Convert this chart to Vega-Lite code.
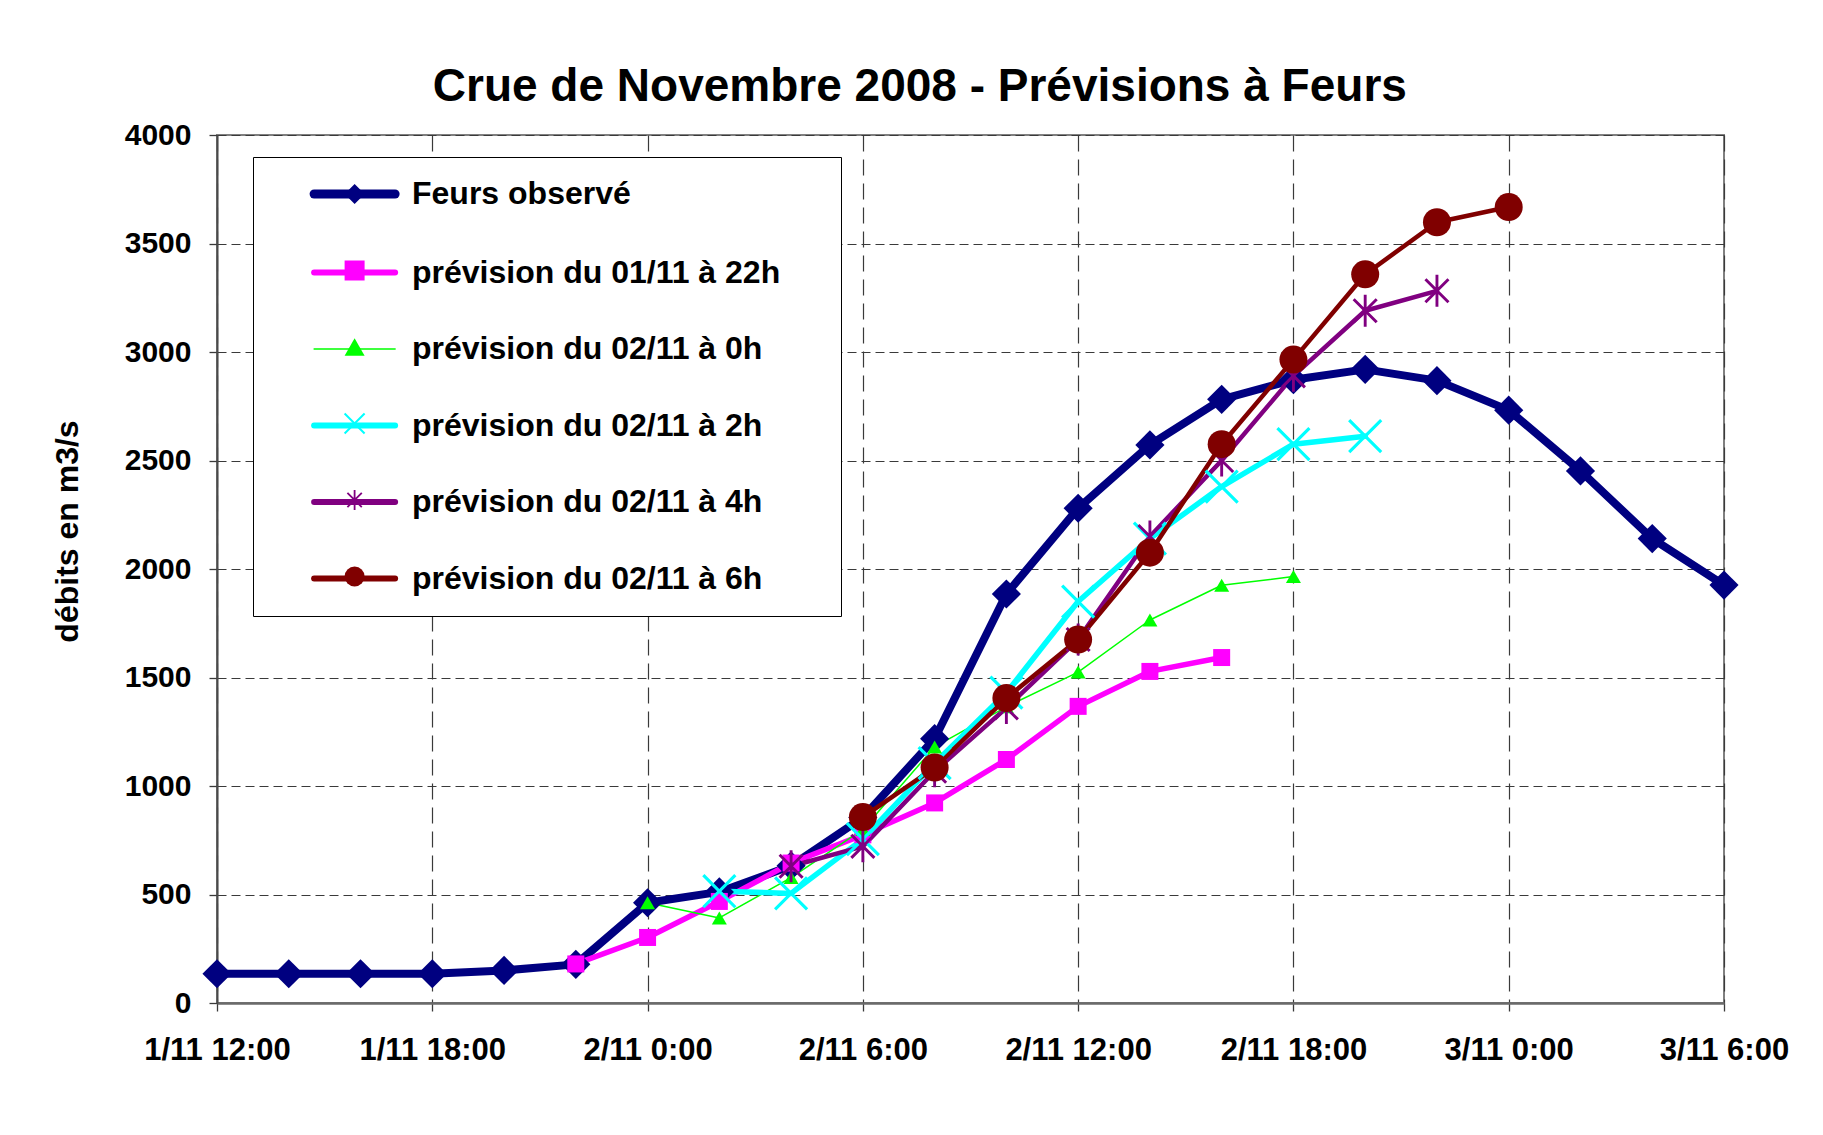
{
  "$schema": "https://vega.github.io/schema/vega-lite/v6.json",
  "width": 1507,
  "height": 868,
  "autosize": {"type": "none"},
  "padding": {"left": 217, "top": 135, "right": 99, "bottom": 132},
  "background": "white",
  "title": {
    "text": "Crue de Novembre 2008 - Prévisions à Feurs",
    "font": "Liberation Sans",
    "fontSize": 46,
    "fontWeight": "bold",
    "color": "black",
    "anchor": "middle",
    "frame": "bounds",
    "baseline": "alphabetic",
    "offset": -27
  },
  "data": {
    "values": [
      {"serie": "Feurs observé", "t": "2008-11-01T12:00", "v": 135},
      {"serie": "Feurs observé", "t": "2008-11-01T14:00", "v": 135},
      {"serie": "Feurs observé", "t": "2008-11-01T16:00", "v": 135},
      {"serie": "Feurs observé", "t": "2008-11-01T18:00", "v": 135},
      {"serie": "Feurs observé", "t": "2008-11-01T20:00", "v": 150},
      {"serie": "Feurs observé", "t": "2008-11-01T22:00", "v": 178},
      {"serie": "Feurs observé", "t": "2008-11-02T00:00", "v": 462},
      {"serie": "Feurs observé", "t": "2008-11-02T02:00", "v": 512},
      {"serie": "Feurs observé", "t": "2008-11-02T04:00", "v": 632},
      {"serie": "Feurs observé", "t": "2008-11-02T06:00", "v": 855},
      {"serie": "Feurs observé", "t": "2008-11-02T08:00", "v": 1218},
      {"serie": "Feurs observé", "t": "2008-11-02T10:00", "v": 1885},
      {"serie": "Feurs observé", "t": "2008-11-02T12:00", "v": 2280},
      {"serie": "Feurs observé", "t": "2008-11-02T14:00", "v": 2572},
      {"serie": "Feurs observé", "t": "2008-11-02T16:00", "v": 2782},
      {"serie": "Feurs observé", "t": "2008-11-02T18:00", "v": 2872},
      {"serie": "Feurs observé", "t": "2008-11-02T20:00", "v": 2920},
      {"serie": "Feurs observé", "t": "2008-11-02T22:00", "v": 2868},
      {"serie": "Feurs observé", "t": "2008-11-03T00:00", "v": 2732},
      {"serie": "Feurs observé", "t": "2008-11-03T02:00", "v": 2452},
      {"serie": "Feurs observé", "t": "2008-11-03T04:00", "v": 2140},
      {"serie": "Feurs observé", "t": "2008-11-03T06:00", "v": 1926},
      {"serie": "Feurs observé", "t": "2008-11-03T08:00", "v": 1770},
      {"serie": "prévision du 01/11 à 22h", "t": "2008-11-01T22:00", "v": 180},
      {"serie": "prévision du 01/11 à 22h", "t": "2008-11-02T00:00", "v": 302},
      {"serie": "prévision du 01/11 à 22h", "t": "2008-11-02T02:00", "v": 468},
      {"serie": "prévision du 01/11 à 22h", "t": "2008-11-02T04:00", "v": 645},
      {"serie": "prévision du 01/11 à 22h", "t": "2008-11-02T06:00", "v": 775},
      {"serie": "prévision du 01/11 à 22h", "t": "2008-11-02T08:00", "v": 922},
      {"serie": "prévision du 01/11 à 22h", "t": "2008-11-02T10:00", "v": 1122},
      {"serie": "prévision du 01/11 à 22h", "t": "2008-11-02T12:00", "v": 1367},
      {"serie": "prévision du 01/11 à 22h", "t": "2008-11-02T14:00", "v": 1528},
      {"serie": "prévision du 01/11 à 22h", "t": "2008-11-02T16:00", "v": 1592},
      {"serie": "prévision du 02/11 à 0h", "t": "2008-11-02T00:00", "v": 462},
      {"serie": "prévision du 02/11 à 0h", "t": "2008-11-02T02:00", "v": 392},
      {"serie": "prévision du 02/11 à 0h", "t": "2008-11-02T04:00", "v": 578},
      {"serie": "prévision du 02/11 à 0h", "t": "2008-11-02T06:00", "v": 800},
      {"serie": "prévision du 02/11 à 0h", "t": "2008-11-02T08:00", "v": 1180},
      {"serie": "prévision du 02/11 à 0h", "t": "2008-11-02T10:00", "v": 1365},
      {"serie": "prévision du 02/11 à 0h", "t": "2008-11-02T12:00", "v": 1525},
      {"serie": "prévision du 02/11 à 0h", "t": "2008-11-02T14:00", "v": 1765},
      {"serie": "prévision du 02/11 à 0h", "t": "2008-11-02T16:00", "v": 1925},
      {"serie": "prévision du 02/11 à 0h", "t": "2008-11-02T18:00", "v": 1965},
      {"serie": "prévision du 02/11 à 2h", "t": "2008-11-02T02:00", "v": 515},
      {"serie": "prévision du 02/11 à 2h", "t": "2008-11-02T04:00", "v": 505},
      {"serie": "prévision du 02/11 à 2h", "t": "2008-11-02T06:00", "v": 755},
      {"serie": "prévision du 02/11 à 2h", "t": "2008-11-02T08:00", "v": 1105},
      {"serie": "prévision du 02/11 à 2h", "t": "2008-11-02T10:00", "v": 1430},
      {"serie": "prévision du 02/11 à 2h", "t": "2008-11-02T12:00", "v": 1850},
      {"serie": "prévision du 02/11 à 2h", "t": "2008-11-02T14:00", "v": 2140},
      {"serie": "prévision du 02/11 à 2h", "t": "2008-11-02T16:00", "v": 2380},
      {"serie": "prévision du 02/11 à 2h", "t": "2008-11-02T18:00", "v": 2575},
      {"serie": "prévision du 02/11 à 2h", "t": "2008-11-02T20:00", "v": 2612},
      {"serie": "prévision du 02/11 à 4h", "t": "2008-11-02T04:00", "v": 630},
      {"serie": "prévision du 02/11 à 4h", "t": "2008-11-02T06:00", "v": 722},
      {"serie": "prévision du 02/11 à 4h", "t": "2008-11-02T08:00", "v": 1068},
      {"serie": "prévision du 02/11 à 4h", "t": "2008-11-02T10:00", "v": 1360},
      {"serie": "prévision du 02/11 à 4h", "t": "2008-11-02T12:00", "v": 1675},
      {"serie": "prévision du 02/11 à 4h", "t": "2008-11-02T14:00", "v": 2150},
      {"serie": "prévision du 02/11 à 4h", "t": "2008-11-02T16:00", "v": 2500},
      {"serie": "prévision du 02/11 à 4h", "t": "2008-11-02T18:00", "v": 2890},
      {"serie": "prévision du 02/11 à 4h", "t": "2008-11-02T20:00", "v": 3190},
      {"serie": "prévision du 02/11 à 4h", "t": "2008-11-02T22:00", "v": 3282},
      {"serie": "prévision du 02/11 à 6h", "t": "2008-11-02T06:00", "v": 857},
      {"serie": "prévision du 02/11 à 6h", "t": "2008-11-02T08:00", "v": 1085},
      {"serie": "prévision du 02/11 à 6h", "t": "2008-11-02T10:00", "v": 1405},
      {"serie": "prévision du 02/11 à 6h", "t": "2008-11-02T12:00", "v": 1675},
      {"serie": "prévision du 02/11 à 6h", "t": "2008-11-02T14:00", "v": 2075},
      {"serie": "prévision du 02/11 à 6h", "t": "2008-11-02T16:00", "v": 2575},
      {"serie": "prévision du 02/11 à 6h", "t": "2008-11-02T18:00", "v": 2965},
      {"serie": "prévision du 02/11 à 6h", "t": "2008-11-02T20:00", "v": 3358},
      {"serie": "prévision du 02/11 à 6h", "t": "2008-11-02T22:00", "v": 3598},
      {"serie": "prévision du 02/11 à 6h", "t": "2008-11-03T00:00", "v": 3668}
    ]
  },
  "encoding": {
    "x": {
      "field": "t",
      "type": "temporal",
      "scale": {
        "domain": [
          {"year": 2008, "month": 11, "date": 1, "hours": 12},
          {"year": 2008, "month": 11, "date": 3, "hours": 6}
        ],
        "nice": false
      },
      "axis": {
        "title": null,
        "format": "%-d/%m %-H:%M",
        "values": [
          {"year": 2008, "month": 11, "date": 1, "hours": 12},
          {"year": 2008, "month": 11, "date": 1, "hours": 18},
          {"year": 2008, "month": 11, "date": 2, "hours": 0},
          {"year": 2008, "month": 11, "date": 2, "hours": 6},
          {"year": 2008, "month": 11, "date": 2, "hours": 12},
          {"year": 2008, "month": 11, "date": 2, "hours": 18},
          {"year": 2008, "month": 11, "date": 3, "hours": 0},
          {"year": 2008, "month": 11, "date": 3, "hours": 6}
        ],
        "grid": true,
        "gridDash": [16, 8],
        "gridColor": "#3a3a3a",
        "gridWidth": 1.2,
        "domainColor": "#6a6a6a",
        "domainWidth": 2.5,
        "tickColor": "#3a3a3a",
        "tickWidth": 1.3,
        "tickSize": 8,
        "labelFont": "Liberation Sans",
        "labelFontSize": 31,
        "labelFontWeight": "bold",
        "labelColor": "black",
        "labelPadding": 24,
        "labelFlush": false,
        "labelOverlap": false
      }
    },
    "y": {
      "field": "v",
      "type": "quantitative",
      "scale": {"domain": [0, 4000], "nice": false},
      "axis": {
        "title": "débits en m3/s",
        "values": [0, 500, 1000, 1500, 2000, 2500, 3000, 3500, 4000],
        "format": "d",
        "grid": true,
        "gridDash": [9, 5],
        "gridColor": "#3a3a3a",
        "gridWidth": 1.2,
        "domainColor": "#4a4a4a",
        "domainWidth": 2,
        "tickColor": "#3a3a3a",
        "tickWidth": 1.3,
        "tickSize": 8,
        "labelFont": "Liberation Sans",
        "labelFontSize": 30,
        "labelFontWeight": "bold",
        "labelColor": "black",
        "labelPadding": 18,
        "titleFont": "Liberation Sans",
        "titleFontSize": 32,
        "titleFontWeight": "bold",
        "titleColor": "black",
        "titleX": -140,
        "titleY": 396,
        "titleAngle": -90,
        "titleAlign": "center",
        "titleBaseline": "alphabetic"
      }
    }
  },
  "layer": [
    {
      "mark": {"type": "line", "clip": true, "strokeCap": "round", "strokeJoin": "round"},
      "encoding": {
        "color": {
          "field": "serie",
          "type": "nominal",
          "scale": {
            "domain": ["Feurs observé", "prévision du 01/11 à 22h", "prévision du 02/11 à 0h", "prévision du 02/11 à 2h", "prévision du 02/11 à 4h", "prévision du 02/11 à 6h"],
            "range": ["#000080", "#FF00FF", "#00FF00", "#00FFFF", "#800080", "#800000"]
          },
          "legend": {
            "orient": "none",
            "legendX": 36,
            "legendY": 22,
            "title": null,
            "padding": 21,
            "rowPadding": 44.5,
            "symbolType": "M-4.05,0H4.05M44.7,0",
            "symbolSize": 400,
            "symbolOffset": 64.6,
            "labelOffset": 41.4,
            "labelFont": "Liberation Sans",
            "labelFontSize": 32,
            "labelFontWeight": "bold",
            "labelColor": "black",
            "labelLimit": 900,
            "fillColor": "white",
            "strokeColor": "black",
            "encode": {
              "symbols": {
                "update": {
                  "strokeWidth": {"signal": "datum.value === 'Feurs observé' ? 9 : datum.value === 'prévision du 02/11 à 0h' ? 1.5 : 6"},
                  "strokeCap": {"value": "round"}
                }
              }
            }
          }
        },
        "strokeWidth": {
          "condition": [
            {"test": "datum.serie === 'Feurs observé'", "value": 8},
            {"test": "datum.serie === 'prévision du 02/11 à 0h'", "value": 1.5},
            {"test": "datum.serie === 'prévision du 01/11 à 22h' || datum.serie === 'prévision du 02/11 à 2h'", "value": 5.5}
          ],
          "value": 4.5
        }
      }
    },
    {
      "transform": [
        {"filter": "datum.v != 1770"}
      ],
      "mark": {"type": "point", "filled": true, "opacity": 1, "clip": false},
      "encoding": {
        "color": {
          "field": "serie",
          "type": "nominal",
          "legend": {
            "orient": "none",
            "legendX": 36,
            "legendY": 22,
            "title": null,
            "padding": 21,
            "rowPadding": 44.5,
            "symbolSize": 400,
            "symbolOffset": 64.6,
            "labelOffset": 41.4,
            "labelFont": "Liberation Sans",
            "labelFontSize": 32,
            "labelFontWeight": "bold",
            "labelColor": "black",
            "labelOpacity": 0,
            "labelLimit": 900
          }
        },
        "shape": {
          "field": "serie",
          "type": "nominal",
          "scale": {
            "domain": ["Feurs observé", "prévision du 01/11 à 22h", "prévision du 02/11 à 0h", "prévision du 02/11 à 2h", "prévision du 02/11 à 4h", "prévision du 02/11 à 6h"],
            "range": ["diamond", "square", "triangle-up", "M-0.93,-1.07L1.07,0.93L0.93,1.07L-1.07,-0.93ZM-0.93,1.07L-1.07,0.93L0.93,-1.07L1.07,-0.93Z", "M-0.09,-1L0.09,-1L0.09,1L-0.09,1ZM-0.655,-0.785L0.785,0.655L0.655,0.785L-0.785,-0.655ZM-0.655,0.785L-0.785,0.655L0.655,-0.785L0.785,-0.655Z", "circle"]
          },
          "legend": {
            "orient": "none",
            "legendX": 36,
            "legendY": 22,
            "title": null,
            "padding": 21,
            "rowPadding": 44.5,
            "symbolSize": 400,
            "symbolOffset": 64.6,
            "labelOffset": 41.4,
            "labelFont": "Liberation Sans",
            "labelFontSize": 32,
            "labelFontWeight": "bold",
            "labelColor": "black",
            "labelOpacity": 0,
            "labelLimit": 900
          }
        },
        "size": {
          "condition": [
            {"test": "datum.serie === 'Feurs observé'", "value": 850},
            {"test": "datum.serie === 'prévision du 01/11 à 22h'", "value": 289},
            {"test": "datum.serie === 'prévision du 02/11 à 0h'", "value": 225},
            {"test": "datum.serie === 'prévision du 02/11 à 6h'", "value": 784}
          ],
          "value": 1024
        }
      }
    }
  ],
  "resolve": {"legend": {"color": "independent", "shape": "independent"}},
  "config": {
    "font": "Liberation Sans",
    "view": {"stroke": "#808080", "strokeWidth": 2}
  }
}
